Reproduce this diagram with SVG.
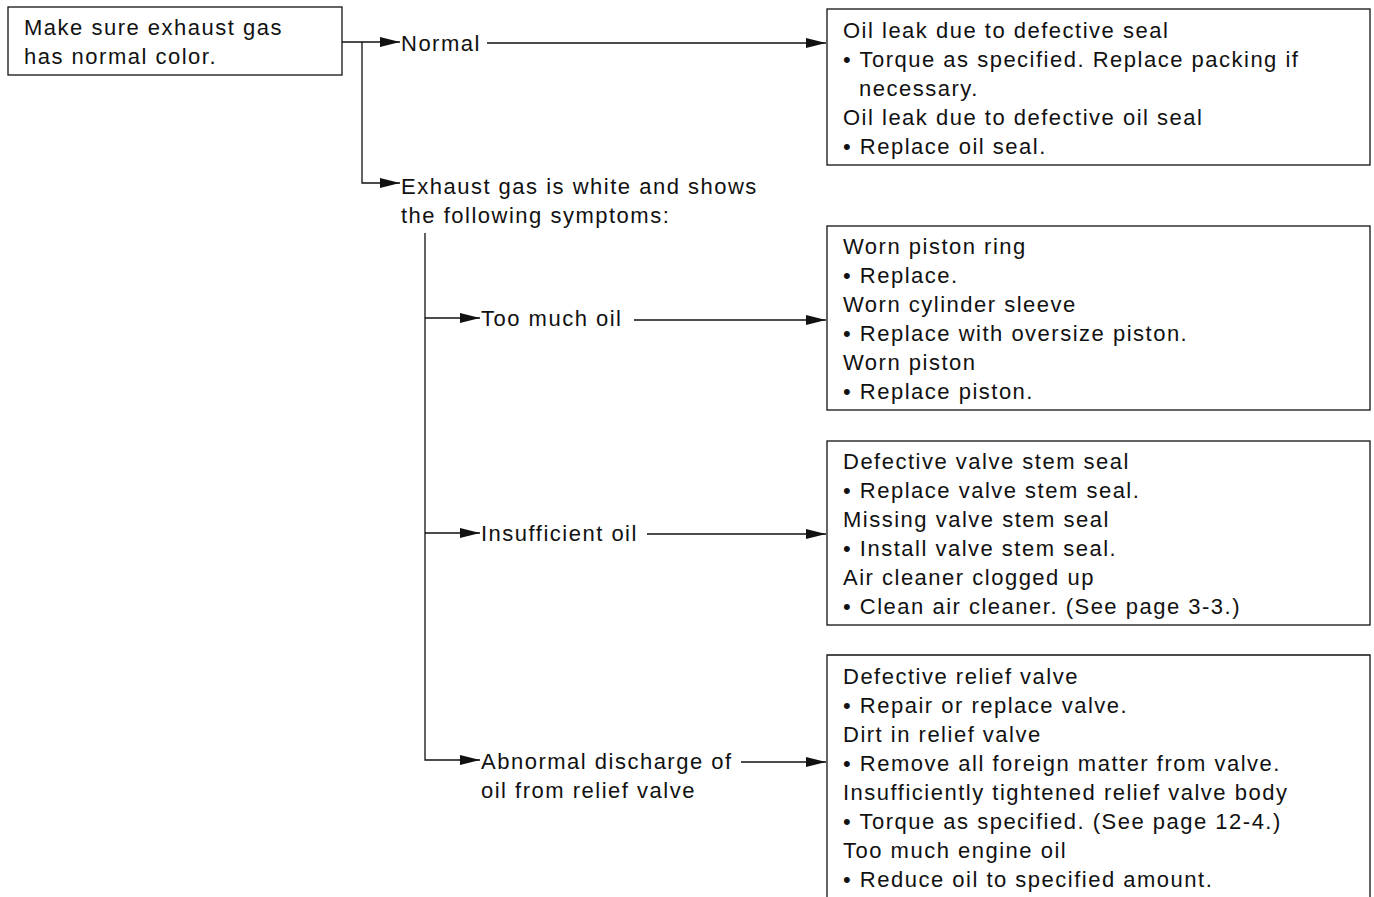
<svg xmlns="http://www.w3.org/2000/svg" width="1374" height="897" viewBox="0 0 1374 897">
  <style>
    .box { fill: #fff; stroke: #111; stroke-width: 1.3; }
    .ln { fill: none; stroke: #111; stroke-width: 1.3; }
    text { font-family: "Liberation Sans", Arial, sans-serif; font-size: 22px; fill: #111; letter-spacing: 1.5px; }
  </style>
  <defs>
    <marker id="arr" viewBox="0 0 20 10" refX="20" refY="5" markerWidth="20" markerHeight="10" markerUnits="userSpaceOnUse" orient="auto">
      <path d="M0,0 L20,5 L0,10 Z" fill="#111"/>
    </marker>
  </defs>
  <rect width="1374" height="897" fill="#fff"/>

  <g id="connectors">
    <path class="ln" d="M342,42 H400" marker-end="url(#arr)"/>
    <path class="ln" d="M362,42 V183 H400" marker-end="url(#arr)"/>
    <path class="ln" d="M487,43 H826" marker-end="url(#arr)"/>
    <path class="ln" d="M425,233 V760 H480" marker-end="url(#arr)"/>
    <path class="ln" d="M425,318 H480" marker-end="url(#arr)"/>
    <path class="ln" d="M634,320 H826" marker-end="url(#arr)"/>
    <path class="ln" d="M425,533 H480" marker-end="url(#arr)"/>
    <path class="ln" d="M647,534 H826" marker-end="url(#arr)"/>
    <path class="ln" d="M741,762 H826" marker-end="url(#arr)"/>
  </g>

  <g id="start">
    <rect class="box" x="8" y="7" width="334" height="68"/>
    <text x="24" y="35">Make sure exhaust gas</text>
    <text x="24" y="64">has normal color.</text>
  </g>

  <g id="normal">
    <text x="401" y="51">Normal</text>
  </g>

  <g id="normal-remedy">
    <rect class="box" x="827" y="9" width="543" height="156"/>
    <text x="843" y="38">Oil leak due to defective seal</text>
    <text x="843" y="67">• Torque as specified. Replace packing if</text>
    <text x="859" y="96">necessary.</text>
    <text x="843" y="125">Oil leak due to defective oil seal</text>
    <text x="843" y="154">• Replace oil seal.</text>
  </g>

  <g id="white-gas">
    <text x="401" y="194">Exhaust gas is white and shows</text>
    <text x="401" y="223">the following symptoms:</text>
  </g>

  <g id="too-much-oil">
    <text x="481" y="326">Too much oil</text>
  </g>

  <g id="too-much-oil-remedy">
    <rect class="box" x="827" y="226" width="543" height="184"/>
    <text x="843" y="254">Worn piston ring</text>
    <text x="843" y="283">• Replace.</text>
    <text x="843" y="312">Worn cylinder sleeve</text>
    <text x="843" y="341">• Replace with oversize piston.</text>
    <text x="843" y="370">Worn piston</text>
    <text x="843" y="399">• Replace piston.</text>
  </g>

  <g id="insufficient-oil">
    <text x="481" y="541">Insufficient oil</text>
  </g>

  <g id="insufficient-oil-remedy">
    <rect class="box" x="827" y="441" width="543" height="184"/>
    <text x="843" y="469">Defective valve stem seal</text>
    <text x="843" y="498">• Replace valve stem seal.</text>
    <text x="843" y="527">Missing valve stem seal</text>
    <text x="843" y="556">• Install valve stem seal.</text>
    <text x="843" y="585">Air cleaner clogged up</text>
    <text x="843" y="614">• Clean air cleaner. (See page 3-3.)</text>
  </g>

  <g id="relief-discharge">
    <text x="481" y="769">Abnormal discharge of</text>
    <text x="481" y="798">oil from relief valve</text>
  </g>

  <g id="relief-discharge-remedy">
    <path class="box" d="M827,910 V655 H1370 V910"/>
    <text x="843" y="684">Defective relief valve</text>
    <text x="843" y="713">• Repair or replace valve.</text>
    <text x="843" y="742">Dirt in relief valve</text>
    <text x="843" y="771">• Remove all foreign matter from valve.</text>
    <text x="843" y="800">Insufficiently tightened relief valve body</text>
    <text x="843" y="829">• Torque as specified. (See page 12-4.)</text>
    <text x="843" y="858">Too much engine oil</text>
    <text x="843" y="887">• Reduce oil to specified amount.</text>
  </g>
</svg>
